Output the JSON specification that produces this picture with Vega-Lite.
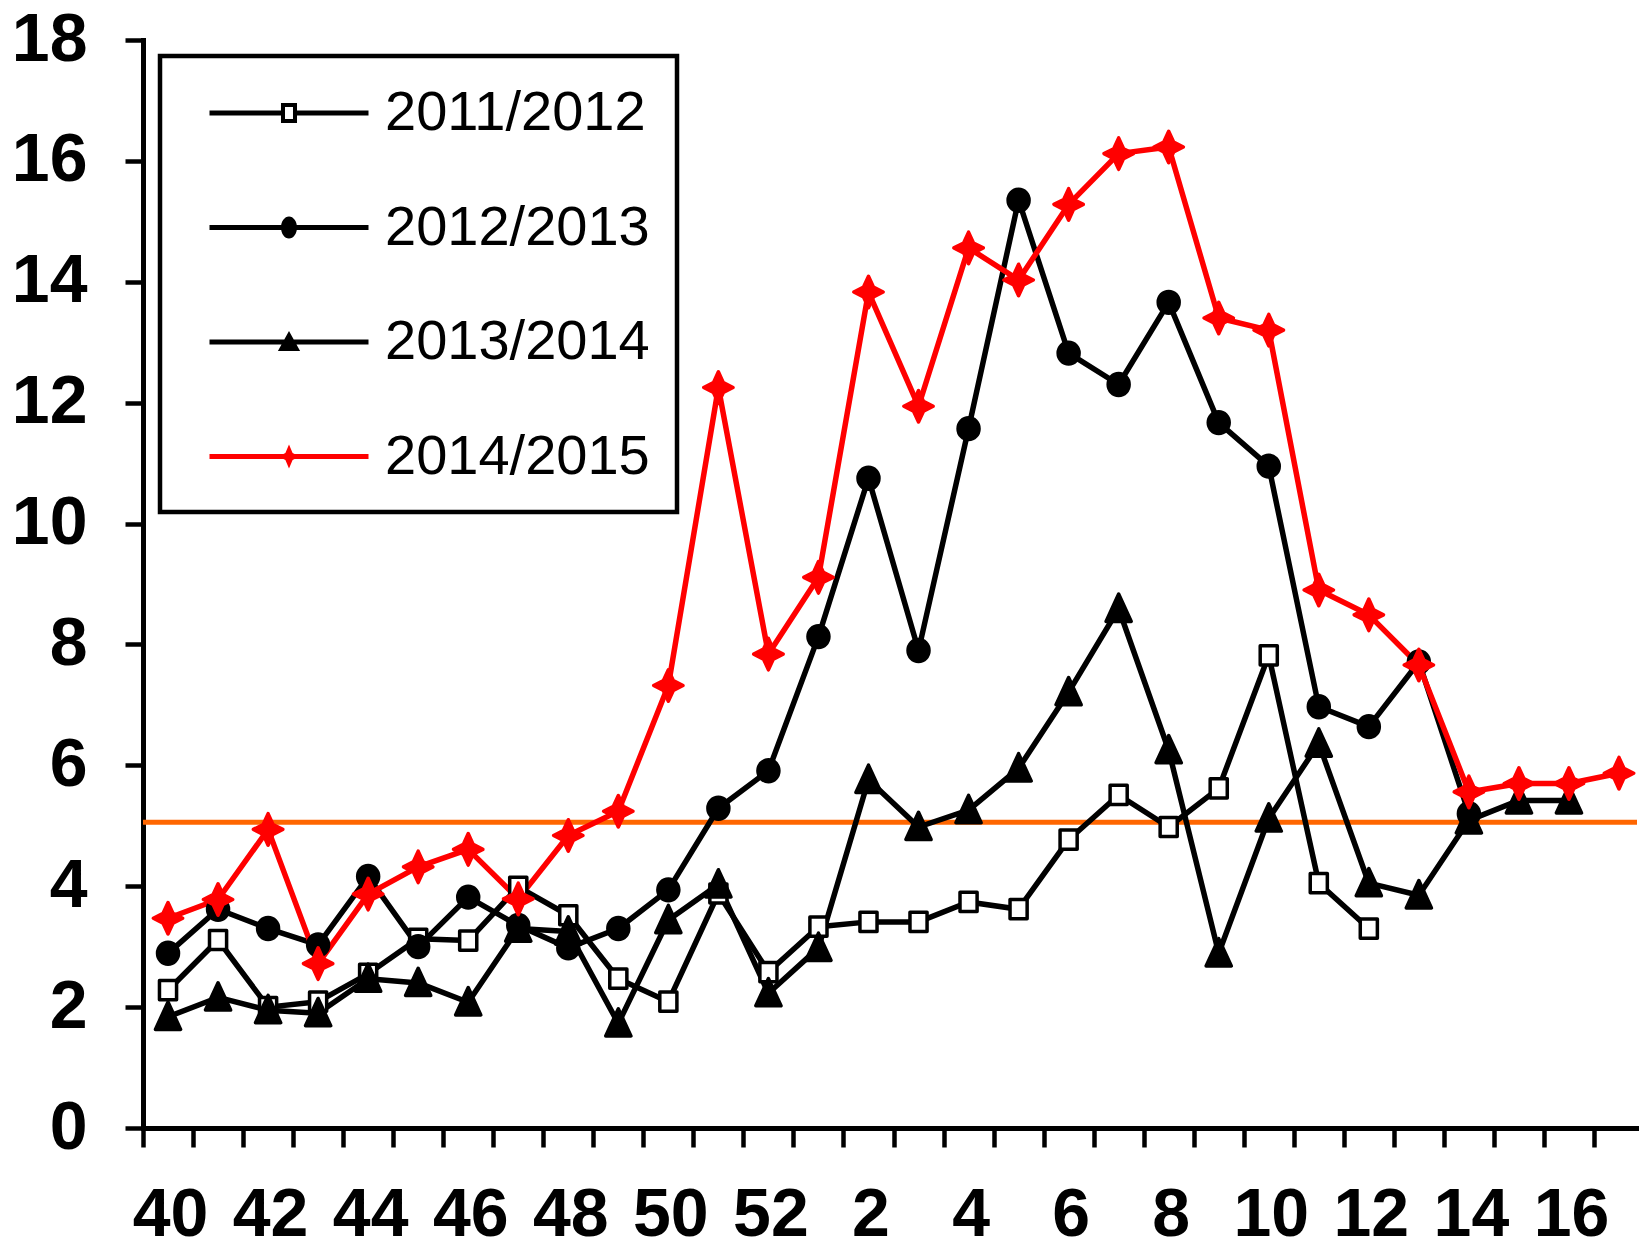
{
  "$schema": "https://vega.github.io/schema/vega-lite/v6.json",
  "width": 1494,
  "height": 1088,
  "autosize": {"type": "none"},
  "padding": {"left": 143, "top": 40, "right": 2, "bottom": 122},
  "background": "white",
  "config": {"view": {"stroke": null}, "font": "Liberation Sans"},
  "resolve": {"scale": {"shape": "independent"}, "legend": {"shape": "independent"}},
  "datasets": {
    "series": [
      {"season":"2011/2012","week":40,"idx":0,"rate":2.28},
      {"season":"2011/2012","week":41,"idx":1,"rate":3.11},
      {"season":"2011/2012","week":42,"idx":2,"rate":2.0},
      {"season":"2011/2012","week":43,"idx":3,"rate":2.09},
      {"season":"2011/2012","week":44,"idx":4,"rate":2.55},
      {"season":"2011/2012","week":45,"idx":5,"rate":3.13},
      {"season":"2011/2012","week":46,"idx":6,"rate":3.1},
      {"season":"2011/2012","week":47,"idx":7,"rate":3.99},
      {"season":"2011/2012","week":48,"idx":8,"rate":3.52},
      {"season":"2011/2012","week":49,"idx":9,"rate":2.47},
      {"season":"2011/2012","week":50,"idx":10,"rate":2.09},
      {"season":"2011/2012","week":51,"idx":11,"rate":3.88},
      {"season":"2011/2012","week":52,"idx":12,"rate":2.58},
      {"season":"2011/2012","week":1,"idx":13,"rate":3.33},
      {"season":"2011/2012","week":2,"idx":14,"rate":3.41},
      {"season":"2011/2012","week":3,"idx":15,"rate":3.41},
      {"season":"2011/2012","week":4,"idx":16,"rate":3.74},
      {"season":"2011/2012","week":5,"idx":17,"rate":3.62},
      {"season":"2011/2012","week":6,"idx":18,"rate":4.77},
      {"season":"2011/2012","week":7,"idx":19,"rate":5.51},
      {"season":"2011/2012","week":8,"idx":20,"rate":4.98},
      {"season":"2011/2012","week":9,"idx":21,"rate":5.62},
      {"season":"2011/2012","week":10,"idx":22,"rate":7.82},
      {"season":"2011/2012","week":11,"idx":23,"rate":4.05},
      {"season":"2011/2012","week":12,"idx":24,"rate":3.3},
      {"season":"2012/2013","week":40,"idx":0,"rate":2.89},
      {"season":"2012/2013","week":41,"idx":1,"rate":3.62},
      {"season":"2012/2013","week":42,"idx":2,"rate":3.3},
      {"season":"2012/2013","week":43,"idx":3,"rate":3.03},
      {"season":"2012/2013","week":44,"idx":4,"rate":4.16},
      {"season":"2012/2013","week":45,"idx":5,"rate":3.0},
      {"season":"2012/2013","week":46,"idx":6,"rate":3.82},
      {"season":"2012/2013","week":47,"idx":7,"rate":3.35},
      {"season":"2012/2013","week":48,"idx":8,"rate":2.98},
      {"season":"2012/2013","week":49,"idx":9,"rate":3.3},
      {"season":"2012/2013","week":50,"idx":10,"rate":3.94},
      {"season":"2012/2013","week":51,"idx":11,"rate":5.29},
      {"season":"2012/2013","week":52,"idx":12,"rate":5.91},
      {"season":"2012/2013","week":1,"idx":13,"rate":8.13},
      {"season":"2012/2013","week":2,"idx":14,"rate":10.75},
      {"season":"2012/2013","week":3,"idx":15,"rate":7.9},
      {"season":"2012/2013","week":4,"idx":16,"rate":11.57},
      {"season":"2012/2013","week":5,"idx":17,"rate":15.35},
      {"season":"2012/2013","week":6,"idx":18,"rate":12.82},
      {"season":"2012/2013","week":7,"idx":19,"rate":12.3},
      {"season":"2012/2013","week":8,"idx":20,"rate":13.66},
      {"season":"2012/2013","week":9,"idx":21,"rate":11.67},
      {"season":"2012/2013","week":10,"idx":22,"rate":10.95},
      {"season":"2012/2013","week":11,"idx":23,"rate":6.97},
      {"season":"2012/2013","week":12,"idx":24,"rate":6.64},
      {"season":"2012/2013","week":13,"idx":25,"rate":7.71},
      {"season":"2012/2013","week":14,"idx":26,"rate":5.2},
      {"season":"2013/2014","week":40,"idx":0,"rate":1.84},
      {"season":"2013/2014","week":41,"idx":1,"rate":2.16},
      {"season":"2013/2014","week":42,"idx":2,"rate":1.95},
      {"season":"2013/2014","week":43,"idx":3,"rate":1.9},
      {"season":"2013/2014","week":44,"idx":4,"rate":2.47},
      {"season":"2013/2014","week":45,"idx":5,"rate":2.4},
      {"season":"2013/2014","week":46,"idx":6,"rate":2.08},
      {"season":"2013/2014","week":47,"idx":7,"rate":3.3},
      {"season":"2013/2014","week":48,"idx":8,"rate":3.25},
      {"season":"2013/2014","week":49,"idx":9,"rate":1.73},
      {"season":"2013/2014","week":50,"idx":10,"rate":3.44},
      {"season":"2013/2014","week":51,"idx":11,"rate":4.03},
      {"season":"2013/2014","week":52,"idx":12,"rate":2.23},
      {"season":"2013/2014","week":1,"idx":13,"rate":2.98},
      {"season":"2013/2014","week":2,"idx":14,"rate":5.76},
      {"season":"2013/2014","week":3,"idx":15,"rate":4.98},
      {"season":"2013/2014","week":4,"idx":16,"rate":5.26},
      {"season":"2013/2014","week":5,"idx":17,"rate":5.95},
      {"season":"2013/2014","week":6,"idx":18,"rate":7.21},
      {"season":"2013/2014","week":7,"idx":19,"rate":8.59},
      {"season":"2013/2014","week":8,"idx":20,"rate":6.25},
      {"season":"2013/2014","week":9,"idx":21,"rate":2.89},
      {"season":"2013/2014","week":10,"idx":22,"rate":5.12},
      {"season":"2013/2014","week":11,"idx":23,"rate":6.36},
      {"season":"2013/2014","week":12,"idx":24,"rate":4.05},
      {"season":"2013/2014","week":13,"idx":25,"rate":3.85},
      {"season":"2013/2014","week":14,"idx":26,"rate":5.09},
      {"season":"2013/2014","week":15,"idx":27,"rate":5.42},
      {"season":"2013/2014","week":16,"idx":28,"rate":5.42},
      {"season":"2014/2015","week":40,"idx":0,"rate":3.47},
      {"season":"2014/2015","week":41,"idx":1,"rate":3.78},
      {"season":"2014/2015","week":42,"idx":2,"rate":4.94},
      {"season":"2014/2015","week":43,"idx":3,"rate":2.72},
      {"season":"2014/2015","week":44,"idx":4,"rate":3.87},
      {"season":"2014/2015","week":45,"idx":5,"rate":4.32},
      {"season":"2014/2015","week":46,"idx":6,"rate":4.61},
      {"season":"2014/2015","week":47,"idx":7,"rate":3.79},
      {"season":"2014/2015","week":48,"idx":8,"rate":4.84},
      {"season":"2014/2015","week":49,"idx":9,"rate":5.24},
      {"season":"2014/2015","week":50,"idx":10,"rate":7.32},
      {"season":"2014/2015","week":51,"idx":11,"rate":12.25},
      {"season":"2014/2015","week":52,"idx":12,"rate":7.84},
      {"season":"2014/2015","week":1,"idx":13,"rate":9.11},
      {"season":"2014/2015","week":2,"idx":14,"rate":13.83},
      {"season":"2014/2015","week":3,"idx":15,"rate":11.94},
      {"season":"2014/2015","week":4,"idx":16,"rate":14.56},
      {"season":"2014/2015","week":5,"idx":17,"rate":14.03},
      {"season":"2014/2015","week":6,"idx":18,"rate":15.28},
      {"season":"2014/2015","week":7,"idx":19,"rate":16.12},
      {"season":"2014/2015","week":8,"idx":20,"rate":16.23},
      {"season":"2014/2015","week":9,"idx":21,"rate":13.4},
      {"season":"2014/2015","week":10,"idx":22,"rate":13.2},
      {"season":"2014/2015","week":11,"idx":23,"rate":8.9},
      {"season":"2014/2015","week":12,"idx":24,"rate":8.49},
      {"season":"2014/2015","week":13,"idx":25,"rate":7.66},
      {"season":"2014/2015","week":14,"idx":26,"rate":5.56},
      {"season":"2014/2015","week":15,"idx":27,"rate":5.7},
      {"season":"2014/2015","week":16,"idx":28,"rate":5.7},
      {"season":"2014/2015","week":17,"idx":29,"rate":5.87}
    ],
    "threshold": [{"level": 5.06}]
  },
  "layer": [
    {
      "mark": {"type": "rule", "color": "#b0b0b0", "strokeWidth": 2},
      "encoding": {"x": {"datum": 29.36, "type": "quantitative"}}
    },
    {
      "mark": {"type": "rule", "color": "black", "strokeWidth": 5},
      "encoding": {"y": {"datum": 18, "type": "quantitative"}}
    },
    {
      "data": {"name": "threshold"},
      "mark": {"type": "rule", "color": "#FF6600", "strokeWidth": 5},
      "encoding": {"y": {"field": "level", "type": "quantitative"}}
    },
    {
      "data": {"name": "series"},
      "mark": {"type": "line", "strokeWidth": 5.5, "strokeJoin": "round"},
      "encoding": {
        "x": {
          "field": "idx", "type": "quantitative",
          "scale": {"domain": [-0.5, 29.36], "nice": false, "zero": false},
          "axis": {
            "title": null,
            "values": [-0.5,0.5,1.5,2.5,3.5,4.5,5.5,6.5,7.5,8.5,9.5,10.5,11.5,12.5,13.5,14.5,15.5,16.5,17.5,18.5,19.5,20.5,21.5,22.5,23.5,24.5,25.5,26.5,27.5,28.5],
            "labelExpr": "(datum.value + 0.5) % 2 == 0 && datum.value < 28.6 ? ((datum.value + 0.5) <= 12 ? '' + (datum.value + 40.5) : '' + (datum.value - 11.5)) : ''",
            "labelOffset": 27,
            "labelFlush": false,
            "labelBound": false,
            "labelOverlap": false,
            "labelFont": "Liberation Sans",
            "labelFontWeight": "bold",
            "labelFontSize": 68,
            "labelColor": "black",
            "labelBaseline": "alphabetic",
            "labelPadding": 88,
            "tickSize": 19,
            "tickWidth": 4.5,
            "tickColor": "black",
            "domainColor": "black",
            "domainWidth": 5,
            "domainCap": "square",
            "grid": false
          }
        },
        "y": {
          "field": "rate", "type": "quantitative",
          "scale": {"domain": [0, 18], "nice": false},
          "axis": {
            "title": null,
            "values": [0,2,4,6,8,10,12,14,16,18],
            "format": "d",
            "labelFlush": false,
            "labelBound": false,
            "labelOverlap": false,
            "labelFont": "Liberation Sans",
            "labelFontWeight": "bold",
            "labelFontSize": 68,
            "labelColor": "black",
            "labelPadding": 38,
            "tickSize": 18,
            "tickWidth": 4.5,
            "tickColor": "black",
            "domainColor": "black",
            "domainWidth": 5,
            "domainCap": "square",
            "grid": false
          }
        },
        "detail": {"field": "season", "type": "nominal"},
        "stroke": {"condition": {"test": "datum.season == '2014/2015'", "value": "#FF0000"}, "value": "#000000"}
      }
    },
    {
      "data": {"name": "series"},
      "mark": {"type": "point", "size": 900, "strokeWidth": 3.5, "strokeJoin": "round", "opacity": 1},
      "encoding": {
        "x": {"field": "idx", "type": "quantitative"},
        "y": {"field": "rate", "type": "quantitative"},
        "stroke": {"condition": {"test": "datum.season == '2014/2015'", "value": "#FF0000"}, "value": "#000000"},
        "fill": {"condition": [{"test": "datum.season == '2011/2012'", "value": "#FFFFFF"}, {"test": "datum.season == '2014/2015'", "value": "#FF0000"}], "value": "#000000"},
        "shape": {
          "field": "season", "type": "nominal",
          "scale": {
            "domain": ["2011/2012","2012/2013","2013/2014","2014/2015"],
            "range": [
              "M-0.57,-0.64H0.57V0.64H-0.57Z",
              "M-0.7,0A0.7,0.73 0 1,0 0.7,0A0.7,0.73 0 1,0 -0.7,0Z",
              "M0,-0.98L0.84,0.84L-0.84,0.84Z",
              "M0,-1.05L0.33,-0.33L0.98,0L0.33,0.33L0,1.05L-0.33,0.33L-0.98,0L-0.33,-0.33Z"
            ]
          },
          "legend": null
        }
      }
    },
    {
      "data": {"name": "series"},
      "mark": {"type": "point", "size": 10, "opacity": 0},
      "encoding": {
        "x": {"field": "idx", "type": "quantitative"},
        "y": {"field": "rate", "type": "quantitative"},
        "shape": {
          "field": "season", "type": "nominal",
          "scale": {
            "domain": ["2011/2012","2012/2013","2013/2014","2014/2015"],
            "range": [
              "M-2.65,-0.083H-0.267V0.083H-2.65ZM0.267,-0.083H2.65V0.083H0.267ZM-0.267,-0.333H0.267V0.333H-0.267ZM-0.133,-0.2V0.2H0.133V-0.2Z",
              "M-2.65,-0.083H2.65V0.083H-2.65ZM-0.267,0A0.267,0.367 0 1,1 0.267,0A0.267,0.367 0 1,1 -0.267,0Z",
              "M-2.65,-0.083H2.65V0.083H-2.65ZM0,-0.37L0.37,0.3L-0.37,0.3Z",
              "M-2.65,-0.083H2.65V0.083H-2.65ZM0,-0.4L0.12,-0.12L0.35,0L0.12,0.12L0,0.4L-0.12,0.12L-0.35,0L-0.12,-0.12Z"
            ]
          },
          "legend": {
            "title": null,
            "orient": "none",
            "legendX": 17,
            "legendY": 16,
            "direction": "vertical",
            "labelFont": "Liberation Sans",
            "labelFontSize": 56,
            "labelFontWeight": "normal",
            "labelColor": "black",
            "labelLimit": 600,
            "labelBaseline": "middle",
            "symbolSize": 3600,
            "symbolOpacity": 1,
            "symbolOffset": 72,
            "labelOffset": 66,
            "rowPadding": 56.5,
            "padding": 27,
            "strokeColor": "black",
            "fillColor": "white",
            "encoding": {
              "legend": {"strokeWidth": {"value": 4.5}},
              "symbols": {
                "fill": {"value": {"expr": "datum.value == '2014/2015' ? '#FF0000' : '#000000'"}},
                "stroke": {"value": "transparent"},
                "strokeWidth": {"value": 0},
                "opacity": {"value": 1}
              }
            }
          }
        }
      }
    }
  ]
}
